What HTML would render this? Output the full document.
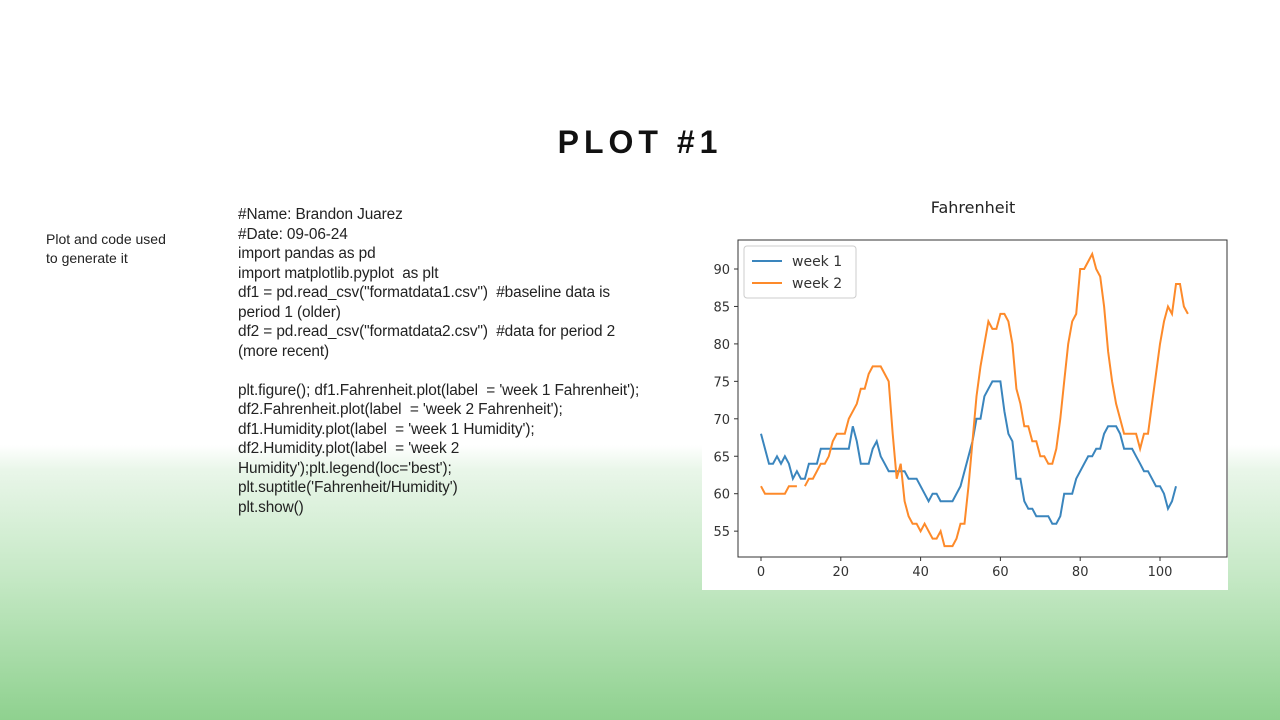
<!DOCTYPE html>
<html><head><meta charset="utf-8"><style>
body{margin:0;width:1280px;height:720px;overflow:hidden;font-family:"Liberation Sans",sans-serif;position:relative;
background:linear-gradient(to bottom,#fff 0px,#fff 445px,#e9f6e9 470px,#c4e8c4 580px,#8fd18f 720px);}
#title{position:absolute;top:124px;left:0;width:1280px;text-align:center;font-size:32px;font-weight:bold;letter-spacing:5px;color:#111;}
#side{position:absolute;left:46px;top:230px;font-size:14px;line-height:19px;color:#222;}
#code{position:absolute;left:238px;top:205px;font-size:15.4px;line-height:19.5px;color:#222;white-space:pre;letter-spacing:-0.1px;}
#chart{position:absolute;left:702px;top:190px;}
</style></head><body>
<div id="title">PLOT #1</div>
<div id="side">Plot and code used<br>to generate  it</div>
<div id="code">#Name: Brandon Juarez
#Date: 09-06-24
import pandas as pd
import matplotlib.pyplot  as plt
df1 = pd.read_csv("formatdata1.csv")  #baseline data is
period 1 (older)
df2 = pd.read_csv("formatdata2.csv")  #data for period 2
(more recent)

plt.figure(); df1.Fahrenheit.plot(label  = 'week 1 Fahrenheit');
df2.Fahrenheit.plot(label  = 'week 2 Fahrenheit');
df1.Humidity.plot(label  = 'week 1 Humidity');
df2.Humidity.plot(label  = 'week 2
Humidity');plt.legend(loc='best');
plt.suptitle('Fahrenheit/Humidity')
plt.show()</div>
<svg id="chart" width="526" height="400"></svg>
<script>
const week1=[68,66,64,64,65,64,65,64,62,63,62,62,64,64,64,66,66,66,66,66,66,66,66,69,67,64,64,64,66,67,65,64,63,63,63,63,63,62,62,62,61,60,59,60,60,59,59,59,59,60,61,63,65,67,70,70,73,74,75,75,75,71,68,67,62,62,59,58,58,57,57,57,57,56,56,57,60,60,60,62,63,64,65,65,66,66,68,69,69,69,68,66,66,66,65,64,63,63,62,61,61,60,58,59,61];
const week2=[61,60,60,60,60,60,60,61,61,61,null,61,62,62,63,64,64,65,67,68,68,68,70,71,72,74,74,76,77,77,77,76,75,68,62,64,59,57,56,56,55,56,55,54,54,55,53,53,53,54,56,56,61,67,73,77,80,83,82,82,84,84,83,80,74,72,69,69,67,67,65,65,64,64,66,70,75,80,83,84,90,90,91,92,90,89,85,79,75,72,70,68,68,68,68,66,68,68,72,76,80,83,85,84,88,88,85,84];
const xTicks=[0,20,40,60,80,100];
const yTicks=[55,60,65,70,75,80,85,90];
const svg=document.getElementById('chart');const NS='http://www.w3.org/2000/svg';
const L=36,R=525,T=50,B=367;
const X=v=>59+v*3.99;
const Y=v=>79+(90-v)*7.49;
function mk(t,a){const e=document.createElementNS(NS,t);for(const k in a)e.setAttribute(k,a[k]);svg.appendChild(e);return e;}
const bg=mk('rect',{x:0,y:0,width:526,height:400,fill:'#fff'});


const tt=mk('text',{x:271,y:23,'text-anchor':'middle','font-size':'16',fill:'#222','font-family':'DejaVu Sans, sans-serif'});tt.textContent='Fahrenheit';


xTicks.forEach(v=>{mk('line',{x1:X(v),x2:X(v),y1:B,y2:B+4,stroke:'#333'});
const t=mk('text',{x:X(v),y:B+19,'text-anchor':'middle','font-size':'13',fill:'#333','font-family':'DejaVu Sans, sans-serif'});t.textContent=v;

});
yTicks.forEach(v=>{mk('line',{x1:L-4,x2:L,y1:Y(v),y2:Y(v),stroke:'#333'});
const t=mk('text',{x:L-8,y:Y(v)+5,'text-anchor':'end','font-size':'13',fill:'#333','font-family':'DejaVu Sans, sans-serif'});t.textContent=v;

});
function path(arr){let d='',pen=false;arr.forEach((v,i)=>{if(v==null){pen=false;return;}d+=(pen?'L':'M')+X(i).toFixed(1)+','+Y(v).toFixed(1);pen=true;});return d;}
const p1=mk('path',{d:path(week1),fill:'none',stroke:'#3a85bd','stroke-width':2});


const p2=mk('path',{d:path(week2),fill:'none',stroke:'#fd8a2a','stroke-width':2});


const fr=mk('rect',{x:L,y:T,width:R-L,height:B-T,fill:'none',stroke:'#333'});


const lg=mk('rect',{x:42,y:56,width:112,height:52,fill:'#fff',stroke:'#ccc',rx:3});


[['week 1','#3a85bd'],['week 2','#fd8a2a']].forEach((s,i)=>{const y=71+i*22;
mk('line',{x1:50,x2:80,y1:y,y2:y,stroke:s[1],'stroke-width':2});
const t=mk('text',{x:90,y:y+5,'font-size':'14',fill:'#333','font-family':'DejaVu Sans, sans-serif'});t.textContent=s[0];

});
</script>
</body></html>
